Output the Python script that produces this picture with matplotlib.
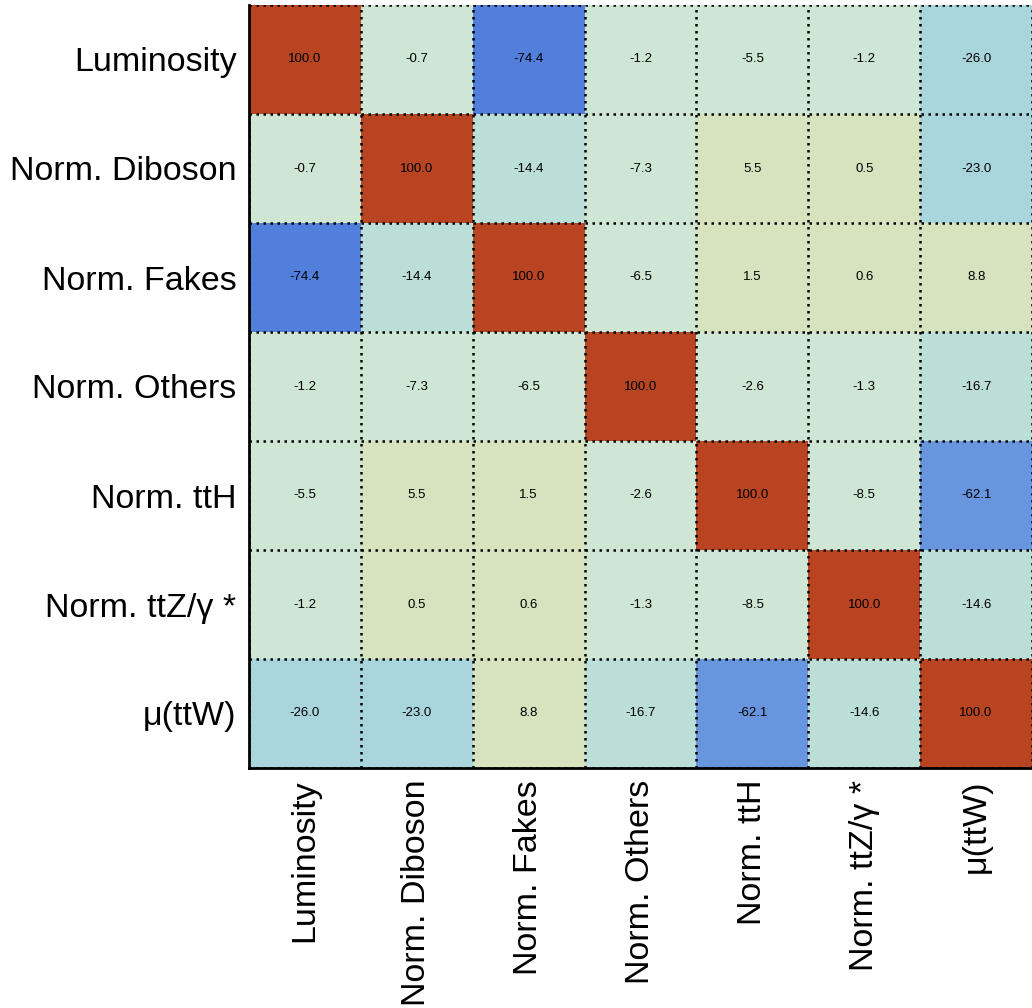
import numpy as np
import matplotlib
matplotlib.use("Agg")
import matplotlib.pyplot as plt
from matplotlib.colors import ListedColormap, BoundaryNorm

plt.rcParams['font.family'] = ['Liberation Sans', 'DejaVu Sans']

labels = ["Luminosity", "Norm. Diboson", "Norm. Fakes", "Norm. Others",
          "Norm. ttH", "Norm. ttZ/\u03b3 *", "\u03bc(ttW)"]

corr = np.array([
    [100.0, -0.7, -74.4, -1.2, -5.5, -1.2, -26.0],
    [-0.7, 100.0, -14.4, -7.3, 5.5, 0.5, -23.0],
    [-74.4, -14.4, 100.0, -6.5, 1.5, 0.6, 8.8],
    [-1.2, -7.3, -6.5, 100.0, -2.6, -1.3, -16.7],
    [-5.5, 5.5, 1.5, -2.6, 100.0, -8.5, -62.1],
    [-1.2, 0.5, 0.6, -1.3, -8.5, 100.0, -14.6],
    [-26.0, -23.0, 8.8, -16.7, -62.1, -14.6, 100.0],
])

# palette in steps of 10 (from -100 to 100)
palette = ["#3a68d4", "#4573d7", "#527fdb", "#6896de", "#74a4df",
           "#82b2df", "#94c5df", "#a9d5dd", "#bcded8", "#d0e6d4",
           "#d7e2bf", "#dcd8ac", "#e0cc98", "#e2bb84", "#dfa56f",
           "#d98c5a", "#d07348", "#c75d38", "#bf4f2c", "#b84422"]
cmap = ListedColormap(palette)
norm = BoundaryNorm(np.linspace(-100, 100, 21), cmap.N)

n = len(labels)
fig = plt.figure(figsize=(10.32, 10.08), dpi=100)
ax = fig.add_axes([249 / 1032, 1 - 768 / 1008, 1 - 249 / 1032, (768 - 5) / 1008])

ax.pcolormesh(np.arange(n + 1), np.arange(n + 1), np.clip(corr, -99.9, 99.9),
              cmap=cmap, norm=norm)
ax.set_xlim(0, n)
ax.set_ylim(n, 0)

for i in range(n):
    for j in range(n):
        ax.text(j + 0.5, i + 0.5, f"{corr[i, j]:.1f}", ha='center', va='center',
                fontsize=9.5, color='black')

for k in range(n + 1):
    ax.axhline(k, color='black', lw=1.8, ls=(0, (1, 1.8)))
    ax.axvline(k, color='black', lw=1.8, ls=(0, (1, 1.8)))

ax.set_xticks(np.arange(n) + 0.5)
ax.set_yticks(np.arange(n) + 0.5)
ax.set_xticklabels(labels, rotation=90, fontsize=24.5)
ax.set_yticklabels(labels, fontsize=24.5)
ax.tick_params(axis='x', length=0, pad=8.5)
ax.tick_params(axis='y', length=0, pad=9)

for s in ['top', 'right']:
    ax.spines[s].set_visible(False)
for s in ['left', 'bottom']:
    ax.spines[s].set_linewidth(2)

fig.savefig("out.png", dpi=100)
